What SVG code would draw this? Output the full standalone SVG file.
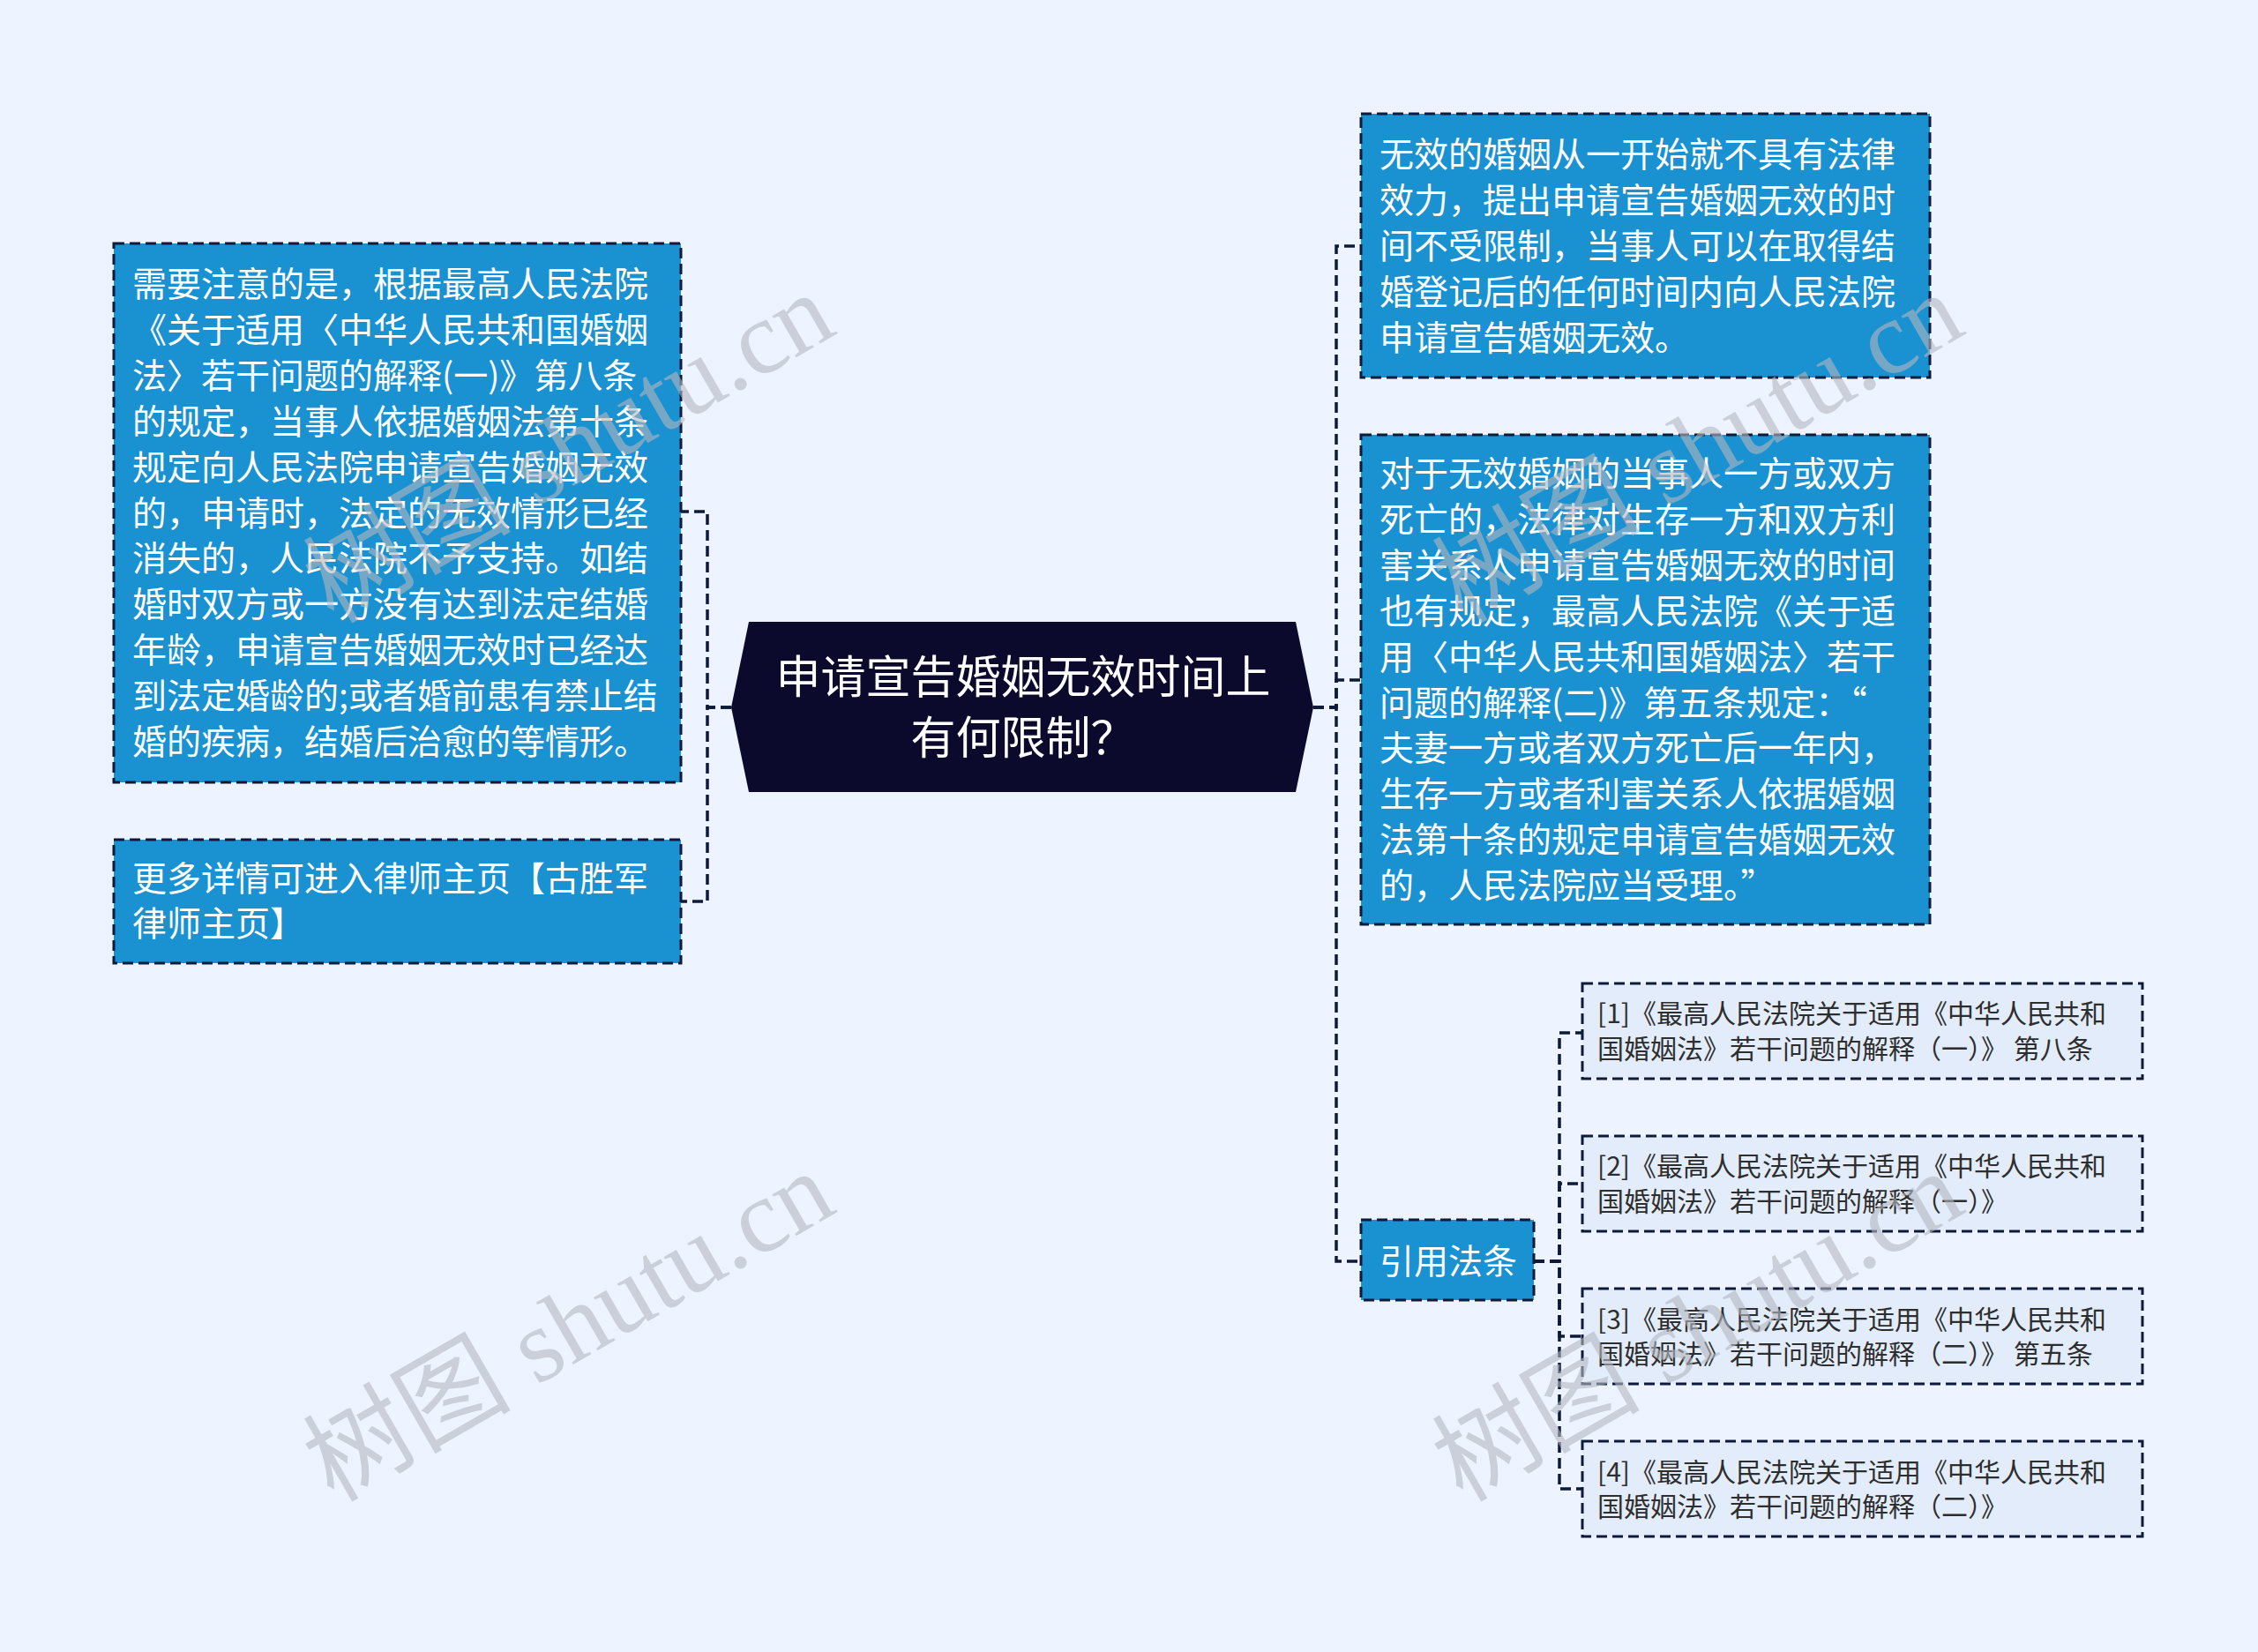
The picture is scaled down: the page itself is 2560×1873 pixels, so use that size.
<svg xmlns="http://www.w3.org/2000/svg" width="2560" height="1873" viewBox="0 0 2560 1873">
<style>
.bg{fill:#EEF4FF}
.blue{fill:#1A91D1;stroke:#0E1A3A;stroke-width:3;stroke-dasharray:12 6}
.ref{fill:#E3ECFA;stroke:#0E1A3A;stroke-width:3;stroke-dasharray:12 6}
.root{fill:#0B0A2C}
.conn{fill:none;stroke:#0E1A3A;stroke-width:3.5;stroke-dasharray:12 6}
.t{font-family:"Noto Sans CJK SC","Noto Sans",sans-serif;font-size:39px;fill:#FFFFFF;dominant-baseline:central}
.rt{font-family:"Noto Sans CJK SC","Noto Sans",sans-serif;font-size:51px;fill:#FFFFFF;dominant-baseline:central;text-anchor:middle}
.st{font-family:"Noto Sans CJK SC","Noto Sans",sans-serif;font-size:30px;fill:#2E2E2E;dominant-baseline:central}
.wm{font-family:"Liberation Serif","Noto Sans CJK SC",serif;font-size:118px;fill:#B4B8C0;opacity:0.6}
</style>
<rect class="bg" x="0" y="0" width="2560" height="1873"/>
<g id="connectors">
<path class="conn" d="M829,802 H802 V580 H772"/>
<path class="conn" d="M829,802 H802 V1022 H772"/>
<path class="conn" d="M1489,802 H1515 V279 H1543"/>
<path class="conn" d="M1489,802 H1515 V771 H1543"/>
<path class="conn" d="M1489,802 H1515 V1430 H1543"/>
<path class="conn" d="M1739,1430 H1768 V1171 H1794"/>
<path class="conn" d="M1739,1430 H1768 V1342 H1794"/>
<path class="conn" d="M1739,1430 H1768 V1515 H1794"/>
<path class="conn" d="M1739,1430 H1768 V1688 H1794"/>
</g>
<g id="root">
<polygon class="root" points="829,802 849,705 1469,705 1489,802 1469,898 849,898"/>
<text class="rt" x="1160" y="764">申请宣告婚姻无效时间上</text>
<text class="rt" x="1160" y="833">有何限制？</text>
</g>
<g id="left1">
<rect class="blue" x="129" y="276" width="643" height="611"/>
<text class="t" x="150" y="319">需要注意的是，根据最高人民法院</text>
<text class="t" x="150" y="371">《关于适用〈中华人民共和国婚姻</text>
<text class="t" x="150" y="423">法〉若干问题的解释(一)》第八条</text>
<text class="t" x="150" y="475">的规定，当事人依据婚姻法第十条</text>
<text class="t" x="150" y="527">规定向人民法院申请宣告婚姻无效</text>
<text class="t" x="150" y="579">的，申请时，法定的无效情形已经</text>
<text class="t" x="150" y="630">消失的，人民法院不予支持。如结</text>
<text class="t" x="150" y="682">婚时双方或一方没有达到法定结婚</text>
<text class="t" x="150" y="734">年龄，申请宣告婚姻无效时已经达</text>
<text class="t" x="150" y="786">到法定婚龄的;或者婚前患有禁止结</text>
<text class="t" x="150" y="838">婚的疾病，结婚后治愈的等情形。</text>
</g>
<g id="left2">
<rect class="blue" x="129" y="952" width="643" height="140"/>
<text class="t" x="150" y="993">更多详情可进入律师主页【古胜军</text>
<text class="t" x="150" y="1044">律师主页】</text>
</g>
<g id="right1">
<rect class="blue" x="1543" y="129" width="645" height="299"/>
<text class="t" x="1564" y="172">无效的婚姻从一开始就不具有法律</text>
<text class="t" x="1564" y="224">效力，提出申请宣告婚姻无效的时</text>
<text class="t" x="1564" y="276">间不受限制，当事人可以在取得结</text>
<text class="t" x="1564" y="328">婚登记后的任何时间内向人民法院</text>
<text class="t" x="1564" y="380">申请宣告婚姻无效。</text>
</g>
<g id="right2">
<rect class="blue" x="1543" y="493" width="645" height="555"/>
<text class="t" x="1564" y="534">对于无效婚姻的当事人一方或双方</text>
<text class="t" x="1564" y="586">死亡的，法律对生存一方和双方利</text>
<text class="t" x="1564" y="638">害关系人申请宣告婚姻无效的时间</text>
<text class="t" x="1564" y="690">也有规定，最高人民法院《关于适</text>
<text class="t" x="1564" y="742">用〈中华人民共和国婚姻法〉若干</text>
<text class="t" x="1564" y="794">问题的解释(二)》第五条规定：“</text>
<text class="t" x="1564" y="845">夫妻一方或者双方死亡后一年内，</text>
<text class="t" x="1564" y="897">生存一方或者利害关系人依据婚姻</text>
<text class="t" x="1564" y="949">法第十条的规定申请宣告婚姻无效</text>
<text class="t" x="1564" y="1001">的，人民法院应当受理。”</text>
</g>
<g id="laws">
<rect class="blue" x="1543" y="1383" width="196" height="91"/>
<text class="t" x="1564" y="1427">引用法条</text>
</g>
<g id="ref1">
<rect class="ref" x="1794" y="1115" width="635" height="108"/>
<text class="st" x="1811" y="1147">[1]《最高人民法院关于适用《中华人民共和</text>
<text class="st" x="1811" y="1187">国婚姻法》若干问题的解释（一）》 第八条</text>
</g>
<g id="ref2">
<rect class="ref" x="1794" y="1288" width="635" height="108"/>
<text class="st" x="1811" y="1320">[2]《最高人民法院关于适用《中华人民共和</text>
<text class="st" x="1811" y="1360">国婚姻法》若干问题的解释（一）》</text>
</g>
<g id="ref3">
<rect class="ref" x="1794" y="1461" width="635" height="108"/>
<text class="st" x="1811" y="1494">[3]《最高人民法院关于适用《中华人民共和</text>
<text class="st" x="1811" y="1533">国婚姻法》若干问题的解释（二）》 第五条</text>
</g>
<g id="ref4">
<rect class="ref" x="1794" y="1634" width="635" height="108"/>
<text class="st" x="1811" y="1667">[4]《最高人民法院关于适用《中华人民共和</text>
<text class="st" x="1811" y="1706">国婚姻法》若干问题的解释（二）》</text>
</g>
<g id="watermarks">
<text class="wm" transform="translate(378,708) rotate(-30)">树图 shutu.cn</text>
<text class="wm" transform="translate(1658,708) rotate(-30)">树图 shutu.cn</text>
<text class="wm" transform="translate(378,1704) rotate(-30)">树图 shutu.cn</text>
<text class="wm" transform="translate(1658,1704) rotate(-30)">树图 shutu.cn</text>
</g>
</svg>
